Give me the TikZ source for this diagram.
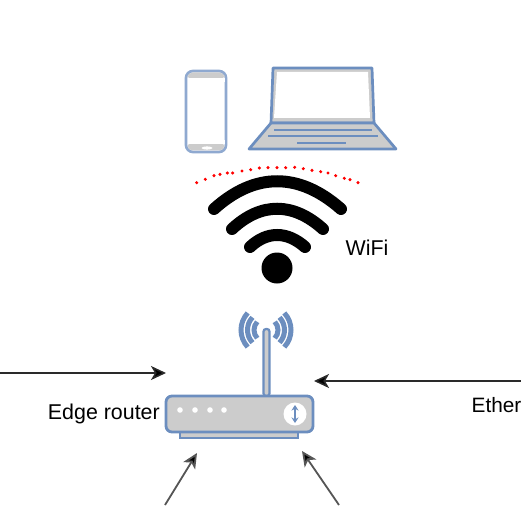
\documentclass[tikz,border=0pt]{standalone}
\usepackage{fontspec}
\setmainfont{Liberation Sans}
\usetikzlibrary{arrows.meta}
\definecolor{blu}{HTML}{6C8EBF}
\definecolor{blulight}{HTML}{8FA9D0}
\definecolor{gry}{HTML}{CCCCCC}
\definecolor{arrowc}{HTML}{2A2A2A}
\definecolor{arrowd}{HTML}{555555}
\tikzset{
  lbl/.style={font=\fontsize{21.4}{25}\selectfont, text=black, inner sep=0pt},
  devfill/.style={draw=blu, fill=gry, line width=2.7pt, line join=round},
  keyline/.style={draw=blu, line width=2.2pt},
  wave/.style={draw=black, line width=12pt, line cap=round},
  radio/.style={draw=blu, line width=5pt},
  conn/.style={draw=arrowc, line width=1.5pt, -{Stealth[length=15pt,width=14pt,inset=4pt,fill=black]}},
  connlow/.style={conn, draw=arrowd, line width=1.8pt},
}
\begin{document}
\begin{tikzpicture}[x=1pt,y=-1pt]
\useasboundingbox (0,0) rectangle (521,505);
\clip (0,0) rectangle (521,505);
\fill[white] (0,0) rectangle (521,505);
% phone
\draw[draw=blulight,fill=white,line width=2.7pt,rounded corners=7pt] (186,71) rectangle (226,152);
\fill[gry,rounded corners=5pt] (187.5,72.5) rectangle (224.5,80);
\fill[white] (187.5,78) rectangle (224.5,82);
\fill[gry,rounded corners=5pt] (187.5,142) rectangle (224.5,150.5);
\fill[white] (187.5,140) rectangle (224.5,144);
\fill[white] (207,148) ellipse (5.5 and 1.6);
% laptop
\draw[devfill] (271,123) -- (273,68) -- (372,68) -- (374,123) -- cycle;
\fill[white] (277,72) -- (368,72) -- (370,118) -- (274,118) -- cycle;
\draw[devfill] (271,123) -- (374,123) -- (396,149) -- (249,149) -- cycle;
\draw[keyline] (274,130) -- (372,130);
\draw[keyline] (268,136) -- (378,136);
\draw[keyline] (297,143) -- (346,143);
% dots
\foreach \a/\b in {50/68,76/58,102/47,120/43,142/39,158/39,186/33,212/29,238/24,264/23,291/23,317/23,344/22,370/26,396/31,422/35,444/39,467/47,493/55,510/59,534/68}
  \fill[red] ({180+\a/3},{160+\b/3}) circle (1.7);
% wifi
\draw[wave] (214,209) .. controls (255,172) and (299,172) .. (341,209);
\draw[wave] (232,229) .. controls (261,202) and (293,202) .. (323,229);
\draw[wave] (250,247) .. controls (267,231) and (287,231) .. (305,247);
\fill[black] (277,268) circle (15.5);
\node[lbl] (wifi) at (367,248) {WiFi};
% antenna waves
\foreach \r in {12,18.5,25}{
  \draw[radio] ({266+\r*cos(137)},{330+\r*sin(137)}) arc[start angle=137,end angle=223,radius=\r];
  \draw[radio] ({266+\r*cos(-43)},{330+\r*sin(-43)}) arc[start angle=-43,end angle=43,radius=\r];
}
% antenna
\draw[draw=blu,fill=gry,line width=2.2pt,rounded corners=2.5pt] (263.5,396) -- (263.5,329) -- (269.5,329) -- (269.5,396) -- cycle;
% router
\draw[draw=blu,fill=gry,line width=2.4pt] (180,431) rectangle (298,438);
\node[draw=blu,fill=gry,line width=2.8pt,rounded corners=6pt,minimum width=147pt,minimum height=36pt,inner sep=0pt] (router) at (239.5,414) {};
\foreach \x in {180,195,210,224} \fill[white] (\x,410) circle (2.8);
\fill[white] (295,414) circle (11.5);
\draw[blu,line width=2pt,{Stealth[length=5.5pt,width=7pt]}-{Stealth[length=5.5pt,width=7pt]}] (295,405) -- (295,423);
\node[lbl,anchor=east] (edge) at (160,414) {Edge router};
\node[lbl,anchor=west,font=\fontsize{20.8}{25}\selectfont] (ether) at (471.5,405) {Ether};
% connectors
\coordinate (leftin) at (0,373);
\coordinate (lefttip) at (166,373);
\coordinate (rightin) at (521,381);
\coordinate (righttip) at (314,381);
\coordinate (blin) at (165,505);
\coordinate (bltip) at (197,453);
\coordinate (brin) at (339,505);
\coordinate (brtip) at (302,451);
\draw[conn] (leftin) -- (lefttip);
\draw[conn] (rightin) -- (righttip);
\draw[connlow] (blin) -- (bltip);
\draw[connlow] (brin) -- (brtip);
\end{tikzpicture}
\end{document}
